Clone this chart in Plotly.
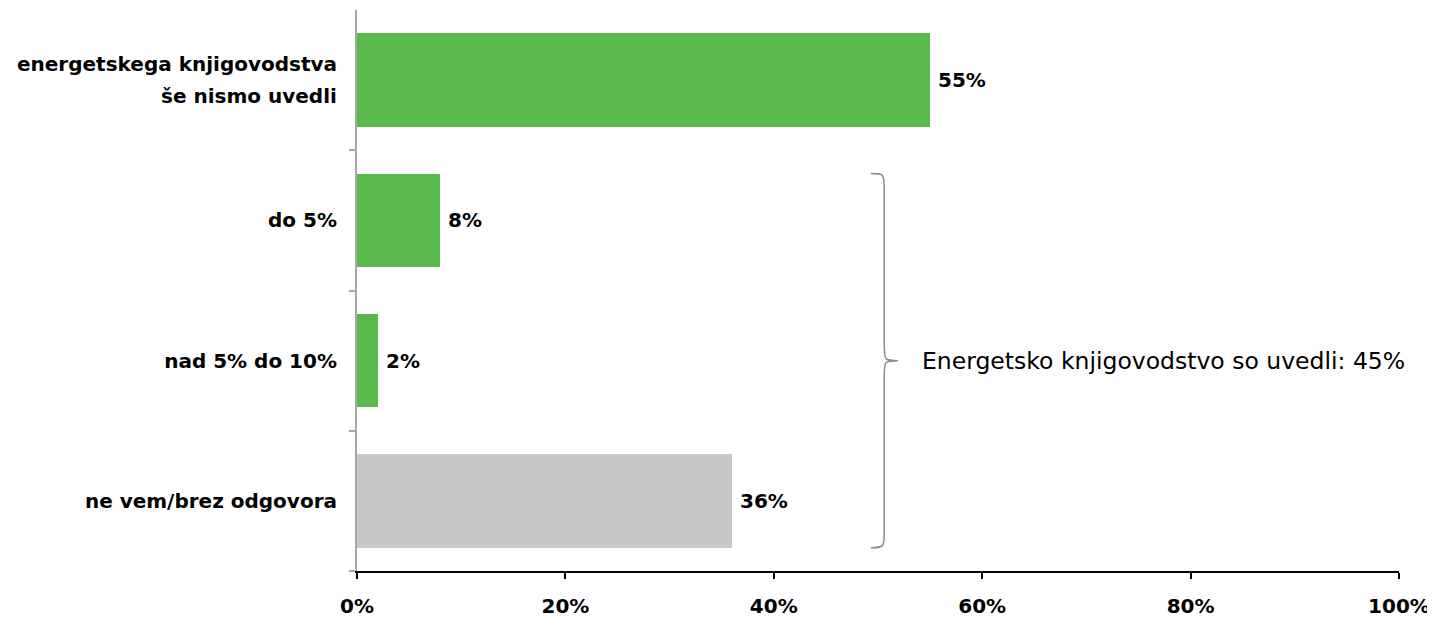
import plotly.graph_objects as go

categories = ["energetskega knjigovodstva<br>še nismo uvedli", "do 5%", "nad 5% do 10%", "ne vem/brez odgovora"]
values = [55, 8, 2, 36]
colors = ["#58BA4A", "#58BA4A", "#58BA4A", "#C8C8C8"]
x_ticks = [0, 20, 40, 60, 80, 100]
x_tick_labels = ["0%", "20%", "40%", "60%", "80%", "100%"]
brace_text = "Energetsko knjigovodstvo so uvedli: 45%"

BAR_W = 0.667
FONT = "DejaVu Sans, Liberation Sans, Arial, sans-serif"
LBL = 20

fig = go.Figure()
fig.add_trace(go.Bar(
    x=values, y=categories, orientation="h",
    marker=dict(color=colors, line=dict(width=0)),
    width=BAR_W, hoverinfo="skip",
))

# value labels
for c, v in zip(categories, values):
    fig.add_annotation(x=v, y=c, xref="x", yref="y", text=f"<b>{v}%</b>",
                       showarrow=False, xanchor="left", xshift=6,
                       font=dict(family=FONT, size=LBL, color="black"))

# multi-line category labels drawn with custom line spacing
ticktexts = []
for c in categories:
    lines = c.split("<br>")
    if len(lines) == 1:
        ticktexts.append(f"<b>{c}</b>")
    else:
        ticktexts.append("")
        k = len(lines)
        for i, ln in enumerate(lines):
            fig.add_annotation(x=0, y=c, xref="paper", yref="y", text=f"<b>{ln}</b>",
                               showarrow=False, xanchor="right", xshift=-18,
                               yshift=((k - 1) / 2 - i) * 32,
                               font=dict(family=FONT, size=LBL, color="black"))

# brace spanning the bars of "introduced" categories (indices 1..3 from top)
n = len(categories)
def ypaper(idx_from_top, off):
    pos = (n - 1 - idx_from_top) + off
    return (pos + 0.5) / n
yt = ypaper(1, BAR_W / 2)
yb = ypaper(3, -BAR_W / 2)
ym = (yt + yb) / 2
x0, xv, xt = 49.3, 50.6, 51.9
r = 0.03
path = (f"M {x0},{yt} C {xv},{yt} {xv},{yt} {xv},{yt - r} "
        f"L {xv},{ym + r} C {xv},{ym} {xv},{ym} {xt},{ym} "
        f"C {xv},{ym} {xv},{ym} {xv},{ym - r} "
        f"L {xv},{yb + r} C {xv},{yb} {xv},{yb} {x0},{yb}")
fig.add_shape(type="path", path=path, xref="x", yref="paper",
              line=dict(color="#8C8C8C", width=1.5))
fig.add_annotation(x=xt, y=ym, xref="x", yref="paper", text=brace_text,
                   showarrow=False, xanchor="left", xshift=22,
                   font=dict(family=FONT, size=23.5, color="black"))

fig.update_layout(
    width=1435, height=620,
    margin=dict(l=349, r=44, t=2, b=57),
    plot_bgcolor="white", paper_bgcolor="white",
    showlegend=False, bargap=0,
    xaxis=dict(range=[0, 100], tickvals=x_ticks, ticktext=[f"<b>{t}</b>" for t in x_tick_labels],
               showgrid=False, zeroline=False, showline=True, linecolor="black", linewidth=2,
               ticks="outside", ticklen=6, tickcolor="black", tickwidth=2,
               tickfont=dict(family=FONT, size=LBL, color="black"), ticklabelstandoff=10),
    yaxis=dict(categoryorder="array", categoryarray=categories[::-1],
               ticktext=ticktexts, tickvals=categories,
               tickson="boundaries", showgrid=False, zeroline=False,
               showline=True, linecolor="#A6A6A6", linewidth=2,
               ticks="outside", ticklen=6, tickcolor="#A6A6A6", tickwidth=2,
               tickfont=dict(family=FONT, size=LBL, color="black"), ticklabelstandoff=14),
)

fig.write_html("out.html")
